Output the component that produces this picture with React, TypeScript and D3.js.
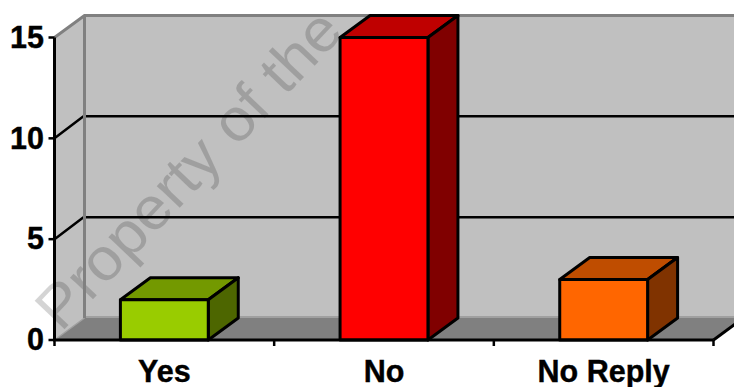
import React from "react";
import * as d3 from "d3";

const categories = ["Yes", "No", "No Reply"];
const answers = [2, 15, 3];
const frontColors = ["#99cc00", "#ff0000", "#ff6600"];
const topColors = ["#739900", "#bf0000", "#bf4d00"];
const sideColors = ["#4d6600", "#800000", "#803300"];
const yTicks = [0, 5, 10, 15];

const width = 734;
const height = 387;
const depthX = 30;
const depthY = 22;
const left = 54.5;
const right = 713.5;
const font = "'Liberation Sans', Arial, sans-serif";

const y = d3.scaleLinear().domain([0, 15]).range([340, 37.5]);
const x = d3
  .scaleBand<string>()
  .domain(categories)
  .range([left, right])
  .paddingInner(0.6)
  .paddingOuter(0.3);
const tickEdges = d3.range(categories.length + 1).map((i) => left + i * x.step());

const poly = (pts: [number, number][]) => d3.line()(pts) + "Z";

export default function App() {
  const base = y(0);
  const top = y(15);
  return (
    <svg
      width={width}
      height={height}
      viewBox={`0 0 ${width} ${height}`}
      style={{ position: "absolute", left: 0, top: 0, background: "#fff" }}
    >
      {/* walls and floor of the 3D box */}
      <path
        d={poly([[left, top], [left + depthX, top - depthY], [left + depthX, base - depthY], [left, base]])}
        fill="#c0c0c0"
      />
      <rect x={left + depthX} y={top - depthY} width={width} height={base - top} fill="#c0c0c0" />
      <path
        d={poly([[left, base], [left + depthX, base - depthY], [right + depthX, base - depthY], [right, base]])}
        fill="#808080"
      />

      {/* faint ownership watermark, lying under the columns */}
      <text
        transform="translate(61,333) rotate(-46.5) scale(1.05,1)"
        fontFamily={font}
        fontSize={60}
        fill="#000"
        fillOpacity={0.17}
      >
        Property of the
      </text>

      {/* wall outlines */}
      <path
        d={`M${left},${top}L${left + depthX},${top - depthY}H${width}`}
        fill="none"
        stroke="#808080"
        strokeWidth={3}
      />
      <line x1={left} y1={base} x2={left + depthX} y2={base - depthY} stroke="#a0a0a0" strokeWidth={1.5} />
      <line x1={left + depthX} y1={base - depthY - 1} x2={width} y2={base - depthY - 1} stroke="#a0a0a0" strokeWidth={2} />

      {/* gridlines wrapping the side and back walls */}
      {yTicks
        .filter((t) => t > 0 && t < 15)
        .map((t) => (
          <path
            key={t}
            d={`M${left},${y(t)}L${left + depthX - 1},${y(t) - depthY}M${left + depthX},${y(t) - depthY}H${width}`}
            fill="none"
            stroke="#000"
            strokeWidth={2.5}
          />
        ))}
      <line
        x1={left + depthX}
        y1={top - depthY}
        x2={left + depthX}
        y2={base - depthY}
        stroke="#808080"
        strokeWidth={3}
      />

      {/* columns */}
      {categories.map((c, i) => {
        const x0 = x(c)!;
        const x1 = x0 + x.bandwidth();
        const yv = y(answers[i]);
        return (
          <g key={c} stroke="#000" strokeWidth={3} strokeLinejoin="round">
            <path
              d={poly([[x0, yv], [x0 + depthX, yv - depthY], [x1 + depthX, yv - depthY], [x1, yv]])}
              fill={topColors[i]}
            />
            <path
              d={poly([[x1, yv], [x1 + depthX, yv - depthY], [x1 + depthX, base - depthY], [x1, base]])}
              fill={sideColors[i]}
            />
            <rect x={x0} y={yv} width={x.bandwidth()} height={base - yv} fill={frontColors[i]} />
          </g>
        );
      })}

      {/* floor front-right edge and axes */}
      <line x1={right} y1={base} x2={right + depthX} y2={base - depthY} stroke="#000" strokeWidth={3} />
      <path
        d={`M${left},${top}V${base}H${right}`}
        fill="none"
        stroke="#000"
        strokeWidth={3}
      />
      {yTicks.map((t) => (
        <g key={t}>
          <line x1={left - 6} y1={y(t)} x2={left} y2={y(t)} stroke="#000" strokeWidth={2.5} />
          <text
            x={44}
            y={y(t) + 10.3}
            textAnchor="end"
            fontFamily={font}
            fontWeight="bold"
            fontSize={30.5}
            fill="#000"
            stroke="#000"
            strokeWidth={0.4}
          >
            {t}
          </text>
        </g>
      ))}
      {tickEdges.map((e) => (
        <line key={e} x1={e} y1={base} x2={e} y2={base + 6} stroke="#000" strokeWidth={2.5} />
      ))}
      {categories.map((c) => (
        <text
          key={c}
          x={x(c)! + x.bandwidth() / 2}
          y={382.3}
          textAnchor="middle"
          fontFamily={font}
          fontWeight="bold"
          fontSize={30.5}
          fill="#000"
          stroke="#000"
          strokeWidth={0.4}
        >
          {c}
        </text>
      ))}
    </svg>
  );
}
